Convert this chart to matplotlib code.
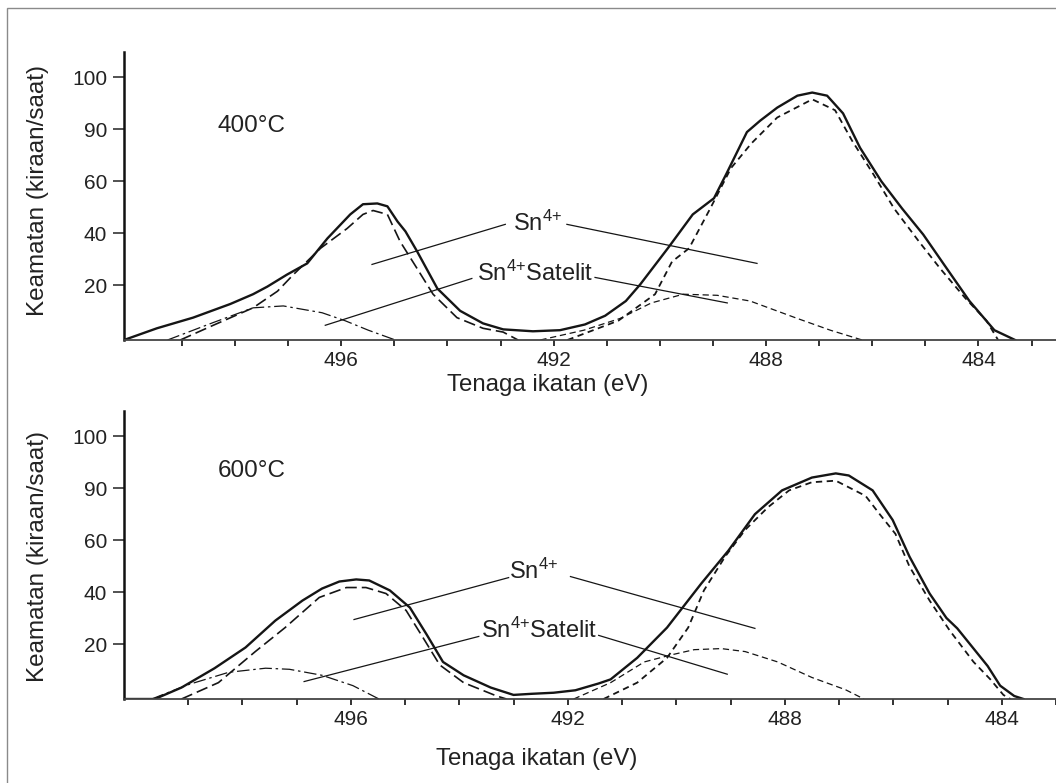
import numpy as np
import matplotlib
matplotlib.use("Agg")
import matplotlib.pyplot as plt
from matplotlib.patches import Rectangle

plt.rcParams['font.family'] = ['Liberation Sans', 'DejaVu Sans']
plt.rcParams['mathtext.fontset'] = 'custom'
plt.rcParams['mathtext.rm'] = 'Liberation Sans'
plt.rcParams['mathtext.it'] = 'Liberation Sans:italic'

# ---- data (binding energy in eV, intensity in counts/s) ----
# 400 C spectrum
env400_x = [500.09, 499.47, 498.79, 498.09, 497.66, 497.39, 497.02, 496.64, 496.26, 495.83,
            495.59, 495.32, 495.13, 494.94, 494.79, 494.57, 494.19, 493.76, 493.33, 492.95,
            492.39, 491.88, 491.41, 491.03, 490.64, 490.37, 489.85, 489.38, 488.98, 488.75,
            488.36, 488.11, 487.79, 487.41, 487.13, 486.85, 486.55, 486.23, 485.83, 485.44,
            485.04, 484.65, 484.17, 483.70, 483.31]
env400_y = [0, 4.3, 8.2, 13.2, 16.8, 19.6, 24.2, 28.5, 38.1, 47.3,
            51.2, 51.5, 50.4, 44.6, 40.8, 33.1, 18.9, 10.7, 6.1, 3.9,
            3.2, 3.6, 5.7, 8.9, 14.3, 20.4, 34.3, 47.3, 53.5, 64.1,
            88.5, 91.7, 94.2, 96.5, 97.1, 96.5, 93.1, 79.4, 60.0, 49.6,
            39.6, 28.1, 14.3, 3.6, 0]
p1_400_x = [499.03, 498.41, 497.66, 497.20, 496.90, 496.39, 495.89, 495.59, 495.40, 495.13,
            494.89, 494.57, 494.27, 493.82, 493.33, 492.95, 492.67]
p1_400_y = [0, 5.4, 11.8, 17.9, 24.2, 34.3, 41.9, 47.3, 48.8, 47.3,
            36.9, 26.5, 16.8, 8.2, 4.3, 2.9, 0]
s1_400_x = [499.27, 498.41, 497.66, 497.09, 496.36, 495.93, 495.49, 494.98]
s1_400_y = [0, 6.4, 11.8, 12.5, 10.0, 7.1, 3.6, 0]
p2_400_x = [491.74, 490.78, 490.09, 489.77, 489.45, 489.05, 488.66, 488.28, 487.79, 487.13,
            486.70, 486.38, 485.98, 485.59, 485.12, 484.72, 484.25, 483.85, 483.63]
p2_400_y = [0, 7.1, 16.8, 29.2, 34.3, 49.6, 67.6, 81.8, 92.3, 95.8,
            93.7, 83.5, 64.1, 49.6, 36.9, 26.5, 15.4, 7.1, 0]
s2_400_x = [492.25, 491.43, 490.75, 490.16, 489.56, 488.92, 488.30, 487.41, 486.79, 486.19]
s2_400_y = [0, 3.6, 7.9, 13.6, 16.8, 16.4, 14.3, 7.9, 3.6, 0]

# 600 C spectrum
env600_x = [500.18, 499.61, 499.12, 498.51, 497.94, 497.39, 496.89, 496.53, 496.21, 495.90,
            495.66, 495.28, 494.91, 494.60, 494.30, 493.92, 493.42, 493.00, 492.67, 492.26,
            491.86, 491.43, 491.21, 490.72, 490.17, 489.54, 489.04, 488.55, 488.05, 487.50,
            487.06, 486.82, 486.38, 486.01, 485.70, 485.33, 485.02, 484.82, 484.26, 484.03,
            483.77, 483.60]
env600_y = [0, 0, 4.2, 11.3, 18.9, 29.2, 36.9, 41.5, 44.2, 45.0,
            44.6, 40.8, 34.2, 23.8, 13.6, 8.7, 4.2, 1.5, 1.9, 2.3,
            3.2, 5.7, 7.2, 15.1, 26.5, 43.4, 56.0, 75.1, 88.9, 92.1,
            92.9, 92.5, 88.9, 71.7, 53.7, 39.6, 30.2, 26.2, 12.1, 4.9,
            1.1, 0]
p1_600_x = [499.12, 498.44, 497.76, 497.21, 496.58, 496.08, 495.72, 495.35, 494.98, 494.67,
            494.36, 493.92, 493.31, 493.13]
p1_600_y = [0, 6.0, 17.4, 26.5, 38.1, 41.9, 41.9, 39.6, 33.1, 22.7,
            12.5, 6.0, 1.1, 0]
s1_600_x = [499.67, 498.99, 498.25, 497.57, 497.13, 496.53, 495.96, 495.48]
s1_600_y = [0, 5.3, 9.8, 11.3, 10.9, 8.7, 4.9, 0]
p2_600_x = [491.34, 490.72, 490.17, 489.78, 489.49, 489.10, 488.73, 488.31, 487.92, 487.50,
            487.06, 486.51, 486.25, 485.96, 485.70, 485.33, 484.96, 484.52, 484.21, 483.97,
            483.84]
p2_600_y = [0, 6.0, 15.1, 26.5, 40.8, 53.7, 66.0, 79.1, 88.9, 91.2,
            91.5, 85.7, 75.1, 63.7, 49.9, 36.9, 25.4, 13.6, 7.2, 1.5,
            0]
s2_600_x = [491.89, 491.21, 490.59, 490.09, 489.67, 489.17, 488.73, 488.13, 487.50, 486.88,
            486.54]
s2_600_y = [0, 6.0, 13.6, 16.2, 18.1, 18.5, 17.4, 13.6, 7.9, 3.4, 0]

# label anchors: (text x, text y, leader ends)
sn_400 = dict(tx=492.31, ty=43.9, left=[(492.91, 43.5), (495.42, 28.1)], right=[(491.75, 43.5), (488.17, 28.5)])
sat_400 = dict(tx=492.35, ty=24.6, left=[(493.54, 22.7), (496.30, 5.4)], right=[(491.22, 23.1), (488.73, 13.6)])
sn_600 = dict(tx=492.63, ty=48.0, left=[(493.09, 45.7), (495.94, 29.6)], right=[(491.95, 46.1), (488.55, 26.2)])
sat_600 = dict(tx=492.52, ty=25.4, left=[(493.64, 23.1), (496.86, 6.4)], right=[(491.43, 23.5), (489.06, 9.1)])

y_ticks = [20, 40, 60, 90, 100]
x_major = [496, 492, 488, 484]

# the printed intensity axis is not linear: ticks sit at nearly equal spacing
Y_VALS = [-20, 0, 20, 40, 60, 90, 100, 200]
Y_POS = [-54.5, 0, 54.5, 106.5, 158.75, 210.5, 262.5, 782.5]


def fwd(v):
    return np.interp(v, Y_VALS, Y_POS)


def inv(p):
    return np.interp(p, Y_POS, Y_VALS)


W, H = 1056, 783
fig = plt.figure(figsize=(W / 100, H / 100), dpi=100)
fig.add_artist(Rectangle((7 / W, -0.05), 1.2, (1 - 8 / H) + 0.05, transform=fig.transFigure,
                         fill=False, ec='#8a8a8a', lw=1.0))

ink = '#151515'
txt_c = '#222222'


def panel(rect, xlim, env, p1, s1, p2, s2, sn, sat, temp, temp_xy):
    ax = fig.add_axes(rect)
    ax.set_yscale('function', functions=(fwd, inv))
    ax.plot(env[0], env[1], color=ink, lw=1.7, solid_joinstyle='round')
    ax.plot(p1[0], p1[1], color=ink, lw=1.2, dashes=(7, 3))
    ax.plot(s1[0], s1[1], color=ink, lw=0.9, dashes=(10, 3, 2, 3))
    ax.plot(p2[0], p2[1], color=ink, lw=1.3, dashes=(3.5, 2.5))
    ax.plot(s2[0], s2[1], color=ink, lw=0.9, dashes=(5, 3))

    for lab, txt in ((sn, 'Sn$^{4{+}}$'), (sat, 'Sn$^{4{+}}$Satelit')):
        for seg in (lab['left'], lab['right']):
            ax.plot([seg[0][0], seg[1][0]], [seg[0][1], seg[1][1]], color=ink, lw=0.9)
        ax.text(lab['tx'], lab['ty'], txt, ha='center', va='center', fontsize=17, color=txt_c)

    ax.text(temp_xy[0], temp_xy[1], temp, ha='left', va='center', fontsize=17.5, color=txt_c)

    ax.set_xlim(*xlim)
    ax.set_ylim(0, 104.9)
    ax.set_yticks(y_ticks)
    ax.set_yticklabels([str(t) for t in y_ticks])
    ax.set_xticks(x_major)
    ax.set_xticklabels([str(t) for t in x_major])
    ax.set_xticks(np.arange(483, 500), minor=True)
    ax.yaxis.set_minor_locator(matplotlib.ticker.NullLocator())
    ax.tick_params(axis='y', direction='out', length=8, width=1.1, labelsize=15, pad=4, colors=txt_c)
    ax.tick_params(axis='x', which='both', direction='out', length=4, width=1.3, labelsize=15,
                   pad=4, colors=txt_c)
    for s in ('top', 'right'):
        ax.spines[s].set_visible(False)
    ax.spines['left'].set_linewidth(1.8)
    ax.spines['left'].set_color('#111')
    ax.spines['bottom'].set_linewidth(1.3)
    ax.spines['bottom'].set_color('#444')
    ax.patch.set_visible(False)
    return ax


ax_w = (W - 124) / W
panel([124 / W, (H - 340) / H, ax_w, 288 / H], (500.09, 482.54),
      (env400_x, env400_y), (p1_400_x, p1_400_y), (s1_400_x, s1_400_y),
      (p2_400_x, p2_400_y), (s2_400_x, s2_400_y), sn_400, sat_400, '400°C', (498.32, 90.6))
panel([124 / W, (H - 699) / H, ax_w, 288 / H], (500.18, 483.05),
      (env600_x, env600_y), (p1_600_x, p1_600_y), (s1_600_x, s1_600_y),
      (p2_600_x, p2_600_y), (s2_600_x, s2_600_y), sn_600, sat_600, '600°C', (498.46, 93.3))

for yc in (190, 556):
    fig.text(38 / W, 1 - yc / H, 'Keamatan (kiraan/saat)', rotation=90, ha='center', va='center',
             fontsize=17.5, color=txt_c)
fig.text(548 / W, 1 - 385 / H, 'Tenaga ikatan (eV)', ha='center', va='center', fontsize=17.3, color=txt_c)
fig.text(537 / W, 1 - 759 / H, 'Tenaga ikatan (eV)', ha='center', va='center', fontsize=17.3, color=txt_c)

fig.savefig('out.png', dpi=100)
